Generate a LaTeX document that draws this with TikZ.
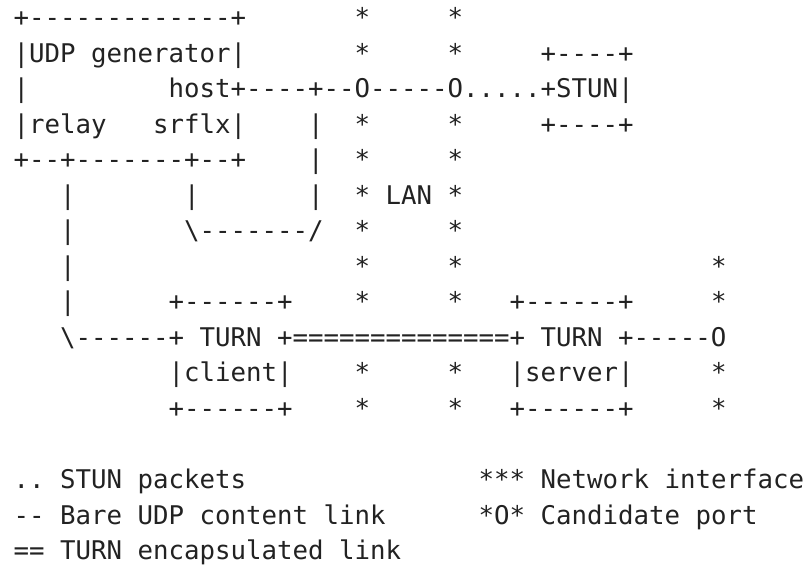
\documentclass[tikz,border=0pt]{standalone}
\usepackage{fontspec}
\setmonofont{DejaVu Sans Mono}
\usepackage{tikz}
\definecolor{ink}{HTML}{222222}
\tikzset{ascii/.style={anchor=base west,inner sep=0pt,text=ink,
  font=\ttfamily\fontsize{19.31pt}{26.6pt}\selectfont}}

\begin{document}
\begin{tikzpicture}[x=0.75pt,y=-0.75pt]
\useasboundingbox (0,0) rectangle (807,566);
% one node per line of the sketch, columns kept by fixed-width spaces
\node[ascii] (row1) at (13.25,27) {+-------------+~~~~~~~*~~~~~*};
\node[ascii] (row2) at (13.25,62.5) {|UDP~generator|~~~~~~~*~~~~~*~~~~~+----+};
\node[ascii] (row3) at (13.25,98) {|~~~~~~~~~host+----+--O-----O.....+STUN|};
\node[ascii] (row4) at (13.25,133.5) {|relay~~~srflx|~~~~|~~*~~~~~*~~~~~+----+};
\node[ascii] (row5) at (13.25,169) {+--+-------+--+~~~~|~~*~~~~~*};
\node[ascii] (row6) at (13.25,204.5) {~~~|~~~~~~~|~~~~~~~|~~*~LAN~*};
\node[ascii] (row7) at (13.25,240) {~~~|~~~~~~~\textbackslash-------/~~*~~~~~*};
\node[ascii] (row8) at (13.25,275.5) {~~~|~~~~~~~~~~~~~~~~~~*~~~~~*~~~~~~~~~~~~~~~~*};
\node[ascii] (row9) at (13.25,311) {~~~|~~~~~~+------+~~~~*~~~~~*~~~+------+~~~~~*};
\node[ascii] (row10) at (13.25,346.5) {~~~\textbackslash------+~TURN~+==============+~TURN~+-----O};
\node[ascii] (row11) at (13.25,382) {~~~~~~~~~~|client|~~~~*~~~~~*~~~|server|~~~~~*};
\node[ascii] (row12) at (13.25,417.5) {~~~~~~~~~~+------+~~~~*~~~~~*~~~+------+~~~~~*};

% legend
\node[ascii] (row14) at (13.25,488.5) {..~STUN~packets~~~~~~~~~~~~~~~***~Network~interface};
\node[ascii] (row15) at (13.25,524) {--~Bare~UDP~content~link~~~~~~*O*~Candidate~port};
\node[ascii] (row16) at (13.25,559.5) {==~TURN~encapsulated~link};
\end{tikzpicture}
\end{document}
